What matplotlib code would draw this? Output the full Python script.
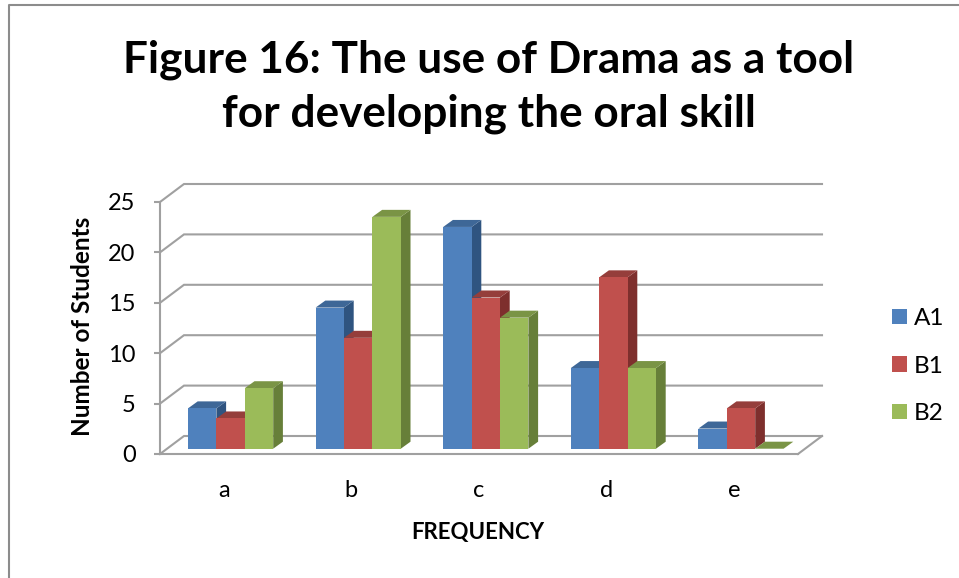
import matplotlib
matplotlib.use("Agg")
import matplotlib.pyplot as plt
from matplotlib.lines import Line2D
from matplotlib.patches import Patch, Polygon

plt.rcParams['font.family'] = ['Lato', 'DejaVu Sans']
plt.rcParams['ytick.alignment'] = 'center_baseline'

categories = ['a', 'b', 'c', 'd', 'e']
series_names = ['A1', 'B1', 'B2']
a1_values = [4, 14, 22, 8, 2]
b1_values = [3, 11, 15, 17, 4]
b2_values = [6, 23, 13, 8, 0]
y_ticks = [0, 5, 10, 15, 20, 25]

front_cols = ['#4F81BD', '#C0504D', '#9BBB59']
top_cols = ['#3E6797', '#953E3B', '#7A9445']
side_cols = ['#2F5480', '#7E2F2D', '#677F39']
grey = '#A0A0A0'

W, H = 959, 578
fig = plt.figure(figsize=(W / 100, H / 100), dpi=100)
# front plane of the fake 3d box, in pixels
left, right, bottom, top = 160, 798, 454, 202
ax = fig.add_axes([left / W, 1 - bottom / H, (right - left) / W, (bottom - top) / H])
ax.set_xlim(0, 5)
ax.set_ylim(0, 25)
ax.patch.set_alpha(0)

# pixel sizes turned into data units
px_x = 5 / (right - left)
px_y = 25 / (bottom - top)
wall_dx, wall_dy = 24 * px_x, 18 * px_y
bar_dx, bar_dy = 9.7 * px_x, 7 * px_y
base_dx, base_dy = 7 * px_x, 5.3 * px_y
gap = 21 * px_x
bar_w = 28.4 * px_x

# walls and gridlines
for v in y_ticks:
    ax.plot([0, wall_dx, 5 + wall_dx], [v, v + wall_dy, v + wall_dy],
            color=grey, lw=1.5, clip_on=False, zorder=1, solid_joinstyle='miter')
ax.plot([5, 5 + wall_dx], [0, wall_dy], color=grey, lw=1.5, clip_on=False, zorder=1)

# bars, left to right so that the later ones cover the sides of the earlier ones
z = 2
for i in range(len(categories)):
    for j, vals in enumerate([a1_values, b1_values, b2_values]):
        v = vals[i]
        x0 = i + base_dx + gap + j * bar_w
        x1 = x0 + bar_w
        y0 = base_dy
        y1 = base_dy + v
        ax.add_patch(Polygon([(x1, y0), (x1 + bar_dx, y0 + bar_dy), (x1 + bar_dx, y1 + bar_dy), (x1, y1)],
                             fc=side_cols[j], ec='none', clip_on=False, zorder=z))
        ax.add_patch(Polygon([(x0, y1), (x1, y1), (x1 + bar_dx, y1 + bar_dy), (x0 + bar_dx, y1 + bar_dy)],
                             fc=top_cols[j], ec='none', clip_on=False, zorder=z))
        ax.add_patch(Polygon([(x0, y0), (x1, y0), (x1, y1), (x0, y1)],
                             fc=front_cols[j], ec='none', clip_on=False, zorder=z))
        z += 1

for s in ['top', 'right']:
    ax.spines[s].set_visible(False)
for s in ['left', 'bottom']:
    ax.spines[s].set_color(grey)
    ax.spines[s].set_linewidth(1.5)
    ax.spines[s].set_zorder(50)

ax.set_yticks(y_ticks)
ax.set_xticks([i + 0.5 for i in range(len(categories))])
ax.set_xticklabels(categories)
ax.tick_params(axis='y', length=4.5, width=1.5, color=grey, labelsize=17, pad=13)
ax.tick_params(axis='x', length=0, labelsize=17, pad=19)

fig.text(478 / W, 1 - 533 / H, 'FREQUENCY', fontsize=16, fontweight='bold', ha='center', va='center')
fig.text(83 / W, 1 - 326 / H, 'Number of Students', fontsize=17.5, fontweight='bold',
         rotation=90, ha='center', va='center')
fig.text(489 / W, 1 - 87 / H, 'Figure 16: The use of Drama as a tool\nfor developing the oral skill',
         fontsize=31.8, fontweight='bold', ha='center', va='center', linespacing=1.42)

# legend
handles = [Patch(fc=c, ec='none') for c in front_cols]
fig.legend(handles, series_names, loc='center left', bbox_to_anchor=(870 / W, 1 - 366 / H),
           frameon=False, fontsize=17.5, handlelength=0.62, handleheight=0.62,
           handletextpad=0.29, labelspacing=1.09)

# outer chart border
fig.add_artist(Line2D([9 / W, 9 / W, 1], [0, 1 - 5 / H, 1 - 5 / H], transform=fig.transFigure,
                      color='#8C8C8C', lw=1.5))

fig.savefig('out.png', dpi=100, facecolor='white')
